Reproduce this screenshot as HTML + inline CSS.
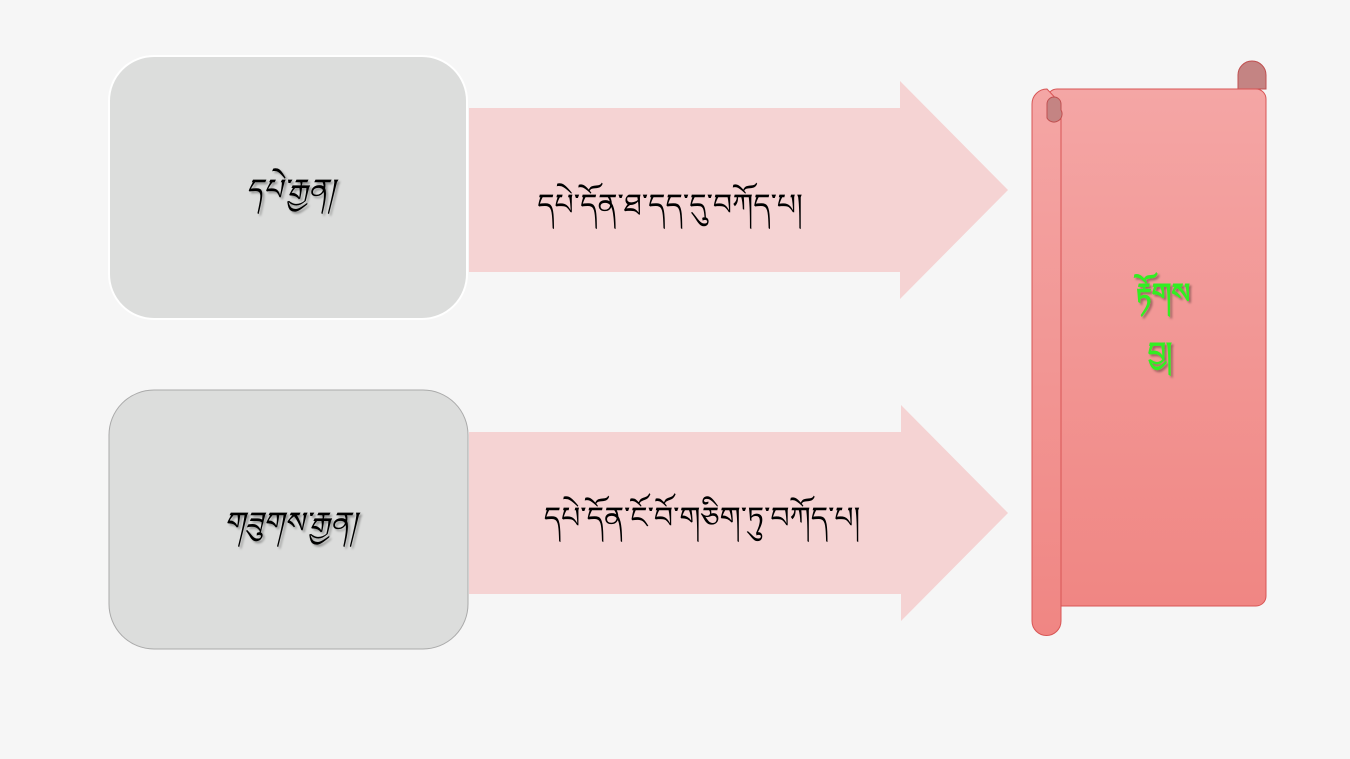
<!DOCTYPE html>
<html><head><meta charset="utf-8"><style>
html,body{margin:0;padding:0;background:#f6f6f6;}
svg{display:block}
text{font-family:"Liberation Sans","Noto Sans CJK SC",sans-serif;}
</style></head><body>
<svg width="1350" height="759" viewBox="0 0 1350 759" xmlns="http://www.w3.org/2000/svg">
<defs>
<linearGradient id="g" x1="0" y1="0" x2="0" y2="1">
<stop offset="0" stop-color="#f4a6a5"/><stop offset="1" stop-color="#f08683"/>
</linearGradient>
<filter id="sh"><feDropShadow dx="2" dy="2" stdDeviation="1" flood-color="#000" flood-opacity="0.35"/></filter>
</defs>
<rect width="1350" height="759" fill="#f6f6f6"/>
<rect x="109" y="56" width="358" height="263" rx="45" fill="#dcdddc" stroke="#ffffff" stroke-width="2"/>
<rect x="109" y="390" width="359" height="259" rx="45" fill="#dcdddc" stroke="#aaaaaa" stroke-width="1"/>
<polygon points="469,108 900,108 900,81 1008,190 900,299 900,272 469,272" fill="#f5d3d3"/>
<polygon points="469,432 901,432 901,405 1008,513 901,621 901,594 469,594" fill="#f5d3d3"/>
<path d="M1238,89 L1238,75 A14,14 0 0 1 1266,75 L1266,89 Z" fill="#c48483" stroke="#c05050" stroke-width="1"/>
<rect x="1047" y="89" width="219" height="517" rx="10" fill="url(#g)" stroke="#d85555" stroke-width="1"/>
<path d="M1047,89 A15,15 0 0 0 1032,104 L1032,621 A14.5,14.5 0 0 0 1061,621 L1061,104 Z" fill="url(#g)" stroke="#d85555" stroke-width="1"/>
<path d="M1047,104 A7,7 0 0 1 1061,104 L1061,110 A8,8 0 0 1 1047,118 Z" fill="#c48483" stroke="#c05050" stroke-width="1"/>
<g filter="url(#sh)">
<text x="290" y="200" font-size="30" font-style="italic" text-anchor="middle" fill="#000">དཔེ་རྒྱན།</text>
<text x="290" y="533" font-size="30" font-style="italic" text-anchor="middle" fill="#000">གཟུགས་རྒྱན།</text>
<text x="1163" y="303" font-size="28" font-weight="bold" text-anchor="middle" fill="#33ee22">རྟོགས</text>
<text x="1160" y="362" font-size="28" font-weight="bold" text-anchor="middle" fill="#33ee22">བྱ།</text>
</g>
<text x="670" y="215" font-size="30" text-anchor="middle" fill="#000">དཔེ་དོན་ཐ་དད་དུ་བཀོད་པ།</text>
<text x="702" y="528" font-size="30" text-anchor="middle" fill="#000">དཔེ་དོན་ངོ་བོ་གཅིག་ཏུ་བཀོད་པ།</text>
</svg>
</body></html>
